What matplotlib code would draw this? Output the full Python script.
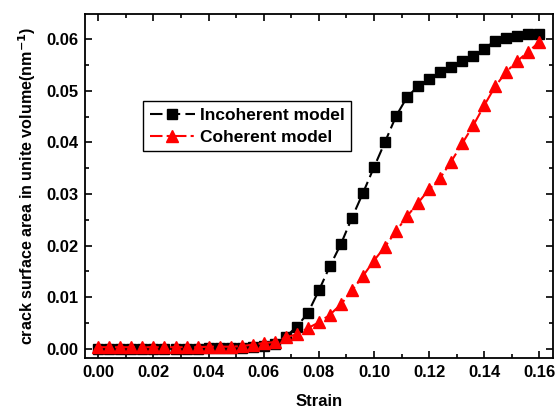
import matplotlib
matplotlib.use("Agg")
import matplotlib.pyplot as plt
from matplotlib.ticker import MultipleLocator

plt.rcParams["font.family"] = ["Liberation Sans", "DejaVu Sans"]
plt.rcParams["font.weight"] = "bold"

# strain values, step 0.004
strain = [round(i * 0.004, 3) for i in range(41)]

incoherent = [0.0000, 0.0000, 0.0000, 0.0000, 0.0000, 0.0000, 0.0000, 0.0000,
              0.0000, 0.0000, 0.0001, 0.0001, 0.0001, 0.0002, 0.0003, 0.0005,
              0.0009, 0.0023, 0.0043, 0.0069, 0.0113, 0.0160, 0.0203, 0.0254,
              0.0302, 0.0352, 0.0401, 0.0451, 0.0488, 0.0509, 0.0523, 0.0536,
              0.0547, 0.0558, 0.0568, 0.0582, 0.0597, 0.0603, 0.0606, 0.0611,
              0.0611]

coherent = [0.0003, 0.0003, 0.0003, 0.0003, 0.0003, 0.0003, 0.0003, 0.0003,
            0.0003, 0.0003, 0.0004, 0.0004, 0.0004, 0.0005, 0.0008, 0.0011,
            0.0013, 0.0022, 0.0028, 0.0040, 0.0051, 0.0066, 0.0086, 0.0113,
            0.0141, 0.0171, 0.0198, 0.0228, 0.0257, 0.0283, 0.0309, 0.0331,
            0.0363, 0.0398, 0.0433, 0.0472, 0.0509, 0.0537, 0.0558, 0.0576,
            0.0595]

fig = plt.figure(figsize=(5.56, 4.12), dpi=100)
ax = fig.add_axes([0.153, 0.131, 0.842, 0.835])

ax.plot(strain, incoherent, color="black", linestyle=(0, (6, 2.5)), linewidth=1.5,
        marker="s", markersize=7, label="Incoherent model")
ax.plot(strain, coherent, color="red", linestyle=(0, (6, 2, 1.5, 2)), linewidth=1.5,
        marker="^", markersize=8.5, label="Coherent model")

ax.set_xlim(-0.0048, 0.165)
ax.set_ylim(-0.0018, 0.0649)
ax.xaxis.set_major_locator(MultipleLocator(0.02))
ax.xaxis.set_minor_locator(MultipleLocator(0.01))
ax.yaxis.set_major_locator(MultipleLocator(0.01))
ax.yaxis.set_minor_locator(MultipleLocator(0.005))
ax.xaxis.set_major_formatter(lambda v, p: f"{v:.2f}")
ax.yaxis.set_major_formatter(lambda v, p: f"{v:.2f}")

ax.tick_params(which="both", direction="in", top=True, right=True, width=1.2)
ax.tick_params(which="major", length=5, labelsize=12, pad=5)
ax.tick_params(which="minor", length=3)
for s in ax.spines.values():
    s.set_linewidth(1.3)

ax.set_xlabel("Strain", fontsize=12, fontweight="bold", labelpad=10)
ax.set_ylabel("crack surface area in unite volume(nm$^{\\mathbf{-1}}$)",
              fontsize=11.6, fontweight="bold", labelpad=6)

leg = ax.legend(loc="upper left", bbox_to_anchor=(0.124, 0.747), borderaxespad=0,
                fancybox=False, edgecolor="black", framealpha=1, fontsize=12.5,
                handlelength=2.6, handletextpad=0.3, borderpad=0.38, labelspacing=0.4)
leg.get_frame().set_linewidth(1.0)
for t in leg.get_texts():
    t.set_fontweight("bold")

plt.savefig("out.png", dpi=100)
